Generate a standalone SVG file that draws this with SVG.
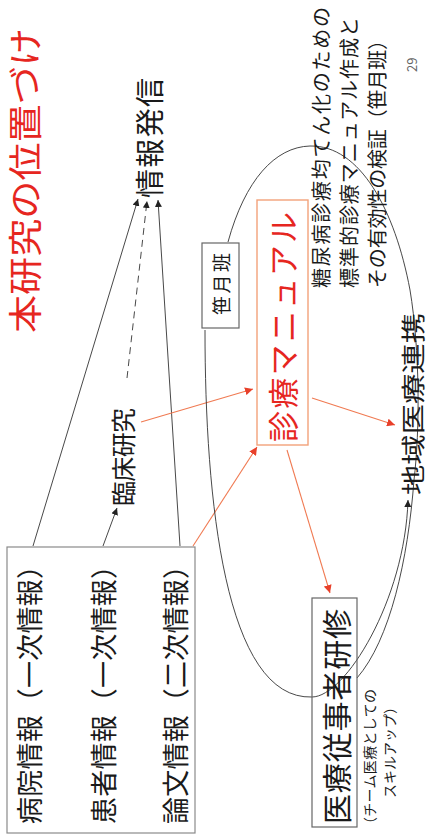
<svg xmlns="http://www.w3.org/2000/svg" width="429" height="834" viewBox="0 0 429 834">
<defs>
<style>
text{font-family:"Noto Sans CJK JP","Noto Sans",sans-serif;dominant-baseline:central;fill:#1a1a1a}
.red{fill:#e6261f}
.box{fill:none;stroke:#8a8a8a;stroke-width:1.2}
.obox{fill:none;stroke:#f2a27a;stroke-width:1.4}
.ln{fill:none;stroke:#333;stroke-width:0.9}
.dash{stroke-dasharray:7 5}
.or{fill:none;stroke:#f07a52;stroke-width:1.1}
</style>
<marker id="ab" viewBox="0 0 10 10" refX="10" refY="5" markerWidth="7" markerHeight="7" markerUnits="userSpaceOnUse" orient="auto"><path d="M0,0 L10,5 L0,10 z" fill="#222"/></marker>
<marker id="ao" viewBox="0 0 10 10" refX="10" refY="5" markerWidth="8" markerHeight="8" markerUnits="userSpaceOnUse" orient="auto"><path d="M0,0 L10,5 L0,10 z" fill="#e8402a"/></marker>
</defs>
<rect width="429" height="834" fill="#fff"/>

<g id="connectors">
<path class="ln" d="M33,546 L138,199" marker-end="url(#ab)"/>
<path class="ln dash" d="M127,378 L147,201" marker-end="url(#ab)"/>
<path class="ln" d="M180,546 L158,200" marker-end="url(#ab)"/>
<path class="ln" d="M103,546 L117,508" marker-end="url(#ab)"/>
<path class="or" d="M141,422 L253,389" marker-end="url(#ao)"/>
<path class="or" d="M193,546 L257,447" marker-end="url(#ao)"/>
<path class="or" d="M312,398 L395,425" marker-end="url(#ao)"/>
<path class="or" d="M287,450 L330,593" marker-end="url(#ao)"/>
<path class="ln" d="M228,242 C245,180 275,147 310,146 C360,145 395,210 410,290 C420,350 420,430 414,480 C408,560 390,640 357,678"/>
<path class="ln" d="M205,330 C205,500 225,700 312,697 C345,697 405,600 408,500" marker-end="url(#ab)"/>
</g>

<g id="title"><text class="red" font-size="34" textLength="305" lengthAdjust="spacingAndGlyphs" transform="translate(23,333) rotate(-90)">本研究の位置づけ</text></g>

<g id="info-sources">
<rect class="box" x="7" y="547" width="188" height="286"/>
<text font-size="27" textLength="272" transform="translate(28,824) rotate(-90)">病院情報（一次情報）</text>
<text font-size="27" textLength="272" transform="translate(102,824) rotate(-90)">患者情報（一次情報）</text>
<text font-size="27" textLength="272" transform="translate(174,824) rotate(-90)">論文情報（二次情報）</text>
</g>

<g id="rinsho"><text font-size="25" textLength="98" transform="translate(122,506) rotate(-90)">臨床研究</text></g>

<g id="hasshin"><text font-size="29" textLength="120" transform="translate(148,198) rotate(-90)">情報発信</text></g>

<g id="manual">
<rect class="obox" x="257" y="200" width="51" height="245"/>
<text class="red" font-size="31" textLength="230" transform="translate(281,442) rotate(-90)">診療マニュアル</text>
</g>

<g id="sasazuki">
<rect class="box" x="202" y="243" width="37" height="85" style="stroke:#666"/>
<text font-size="19" textLength="62" transform="translate(220,315) rotate(-90)">笹月班</text>
</g>

<g id="description">
<text font-size="20" textLength="281" transform="translate(320,288) rotate(-90)">糖尿病診療均てん化のための</text>
<text font-size="20" textLength="271" transform="translate(348,288) rotate(-90)">標準的診療マニュアル作成と</text>
<text font-size="20" textLength="258" transform="translate(376,288) rotate(-90)">その有効性の検証（笹月班）</text>
</g>

<g id="page"><text font-size="13" style="fill:#666" transform="translate(411,72) rotate(-90)">29</text></g>

<g id="chiiki"><text font-size="24" textLength="182" lengthAdjust="spacingAndGlyphs" transform="translate(411,495) rotate(-90)">地域医療連携</text></g>

<g id="kenshu">
<rect class="box" x="312" y="598" width="45" height="229" style="stroke:#666"/>
<text font-size="30" textLength="215" transform="translate(335,824) rotate(-90)">医療従事者研修</text>
<text font-size="14" textLength="142" transform="translate(369,831) rotate(-90)">（チーム医療としての</text>
<text font-size="14" textLength="98" transform="translate(389,798) rotate(-90)">スキルアップ）</text>
</g>
</svg>
